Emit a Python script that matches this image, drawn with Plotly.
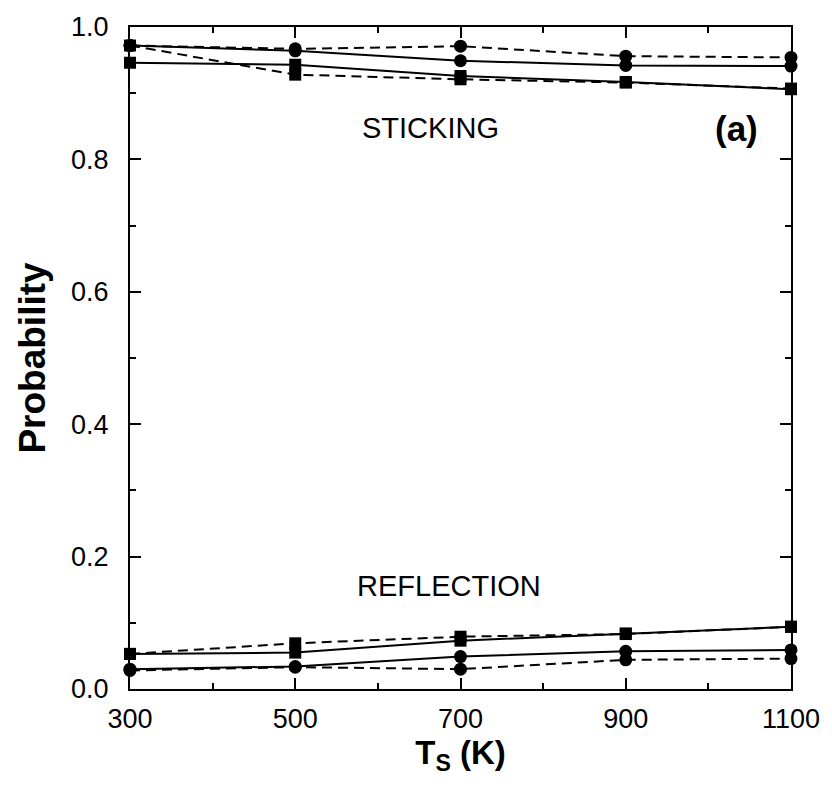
import plotly.graph_objects as go

temps = [300, 500, 700, 900, 1100]

stick_circ_solid = [0.972, 0.964, 0.949, 0.942, 0.941]
stick_circ_dash = [0.972, 0.967, 0.971, 0.956, 0.954]
stick_sq_solid = [0.946, 0.943, 0.926, 0.917, 0.906]
stick_sq_dash = [0.972, 0.928, 0.921, 0.916, 0.907]

refl_sq_solid = [0.053, 0.055, 0.073, 0.084, 0.094]
refl_sq_dash = [0.053, 0.069, 0.079, 0.083, 0.094]
refl_circ_solid = [0.030, 0.034, 0.049, 0.057, 0.059]
refl_circ_dash = [0.028, 0.033, 0.030, 0.044, 0.046]

FONT = "Liberation Sans, Arial, Helvetica, sans-serif"
DASH = "10px,6px"

fig = go.Figure()

def add(y, symbol, dash, size):
    fig.add_trace(go.Scatter(
        x=temps, y=y, mode="lines+markers",
        line=dict(color="black", width=2, dash=dash),
        marker=dict(symbol=symbol, size=size, color="black"),
        showlegend=False, cliponaxis=False,
    ))

add(stick_sq_solid, "square", "solid", 12)
add(stick_sq_dash, "square", DASH, 12)
add(stick_circ_solid, "circle", "solid", 13)
add(stick_circ_dash, "circle", DASH, 13)
add(refl_sq_solid, "square", "solid", 12)
add(refl_sq_dash, "square", DASH, 12)
add(refl_circ_solid, "circle", "solid", 13)
add(refl_circ_dash, "circle", DASH, 13)

fig.add_annotation(x=664, y=0.848, text="STICKING", showarrow=False,
                   font=dict(family=FONT, size=29, color="black"))
fig.add_annotation(x=686, y=0.156, text="REFLECTION", showarrow=False,
                   font=dict(family=FONT, size=29, color="black"))
fig.add_annotation(x=1034, y=0.846, text="<b>(a)</b>", showarrow=False,
                   font=dict(family=FONT, size=35, color="black"))

axis_common = dict(
    showline=True, linecolor="black", linewidth=2, mirror="ticks",
    ticks="inside", ticklen=11, tickwidth=1.5, tickcolor="black",
    showgrid=False, zeroline=False,
    tickfont=dict(family=FONT, size=27, color="black"),
)

fig.update_xaxes(
    range=[300, 1100], tickvals=temps, ticktext=[str(t) for t in temps],
    minor=dict(tickvals=[400, 600, 800, 1000], ticks="inside", ticklen=6,
               tickwidth=1.5, tickcolor="black", showgrid=False),
    title=dict(text="<b>T<sub>S</sub> (K)</b>", standoff=4,
               font=dict(family=FONT, size=33, color="black")),
    ticklabelstandoff=5,
    **axis_common,
)
fig.update_yaxes(
    range=[0, 1], tickvals=[0, 0.2, 0.4, 0.6, 0.8, 1.0],
    ticktext=["0.0", "0.2", "0.4", "0.6", "0.8", "1.0"],
    minor=dict(tickvals=[0.1, 0.3, 0.5, 0.7, 0.9], ticks="inside", ticklen=6,
               tickwidth=1.5, tickcolor="black", showgrid=False),
    title=dict(text="<b>Probability</b>", standoff=14,
               font=dict(family=FONT, size=37, color="black")),
    ticklabelstandoff=14,
    **axis_common,
)

fig.update_layout(
    width=832, height=791,
    margin=dict(l=130, r=37, t=24, b=102),
    plot_bgcolor="white", paper_bgcolor="white",
)

fig.write_html("out.html")
